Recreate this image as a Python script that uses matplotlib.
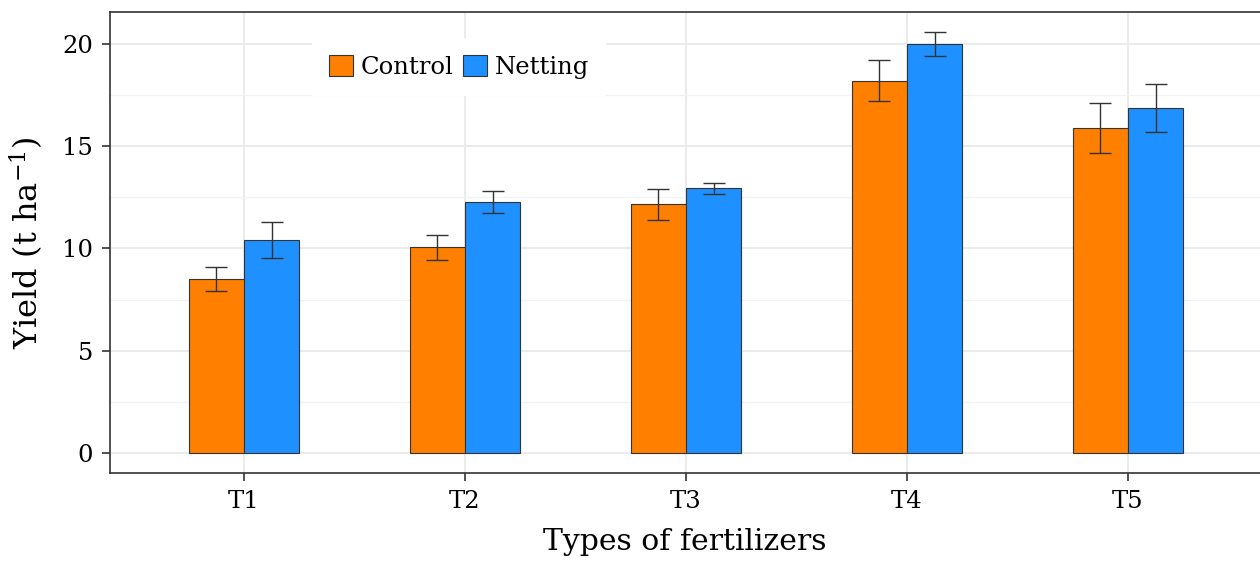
import matplotlib
matplotlib.use("Agg")
import matplotlib.pyplot as plt
import numpy as np

plt.rcParams['font.family'] = ['DejaVu Serif']
plt.rcParams['mathtext.fontset'] = 'dejavuserif'

# data
categories = ["T1", "T2", "T3", "T4", "T5"]
control = [8.5, 10.05, 12.15, 18.2, 15.9]
control_err = [0.6, 0.6, 0.75, 1.0, 1.22]
netting = [10.4, 12.25, 12.95, 20.0, 16.85]
netting_err = [0.88, 0.54, 0.27, 0.6, 1.18]

fig = plt.figure(figsize=(12.6, 5.61), dpi=100)
ax = fig.add_axes([110 / 1260, 1 - 473 / 561, 1 - 110 / 1260, (473 - 12) / 561])

x = np.arange(1, len(categories) + 1)
w = 0.25
ax.bar(x - w / 2, control, w, color="#FF8000", edgecolor="#333333", linewidth=0.8,
       label="Control", zorder=3)
ax.bar(x + w / 2, netting, w, color="#1E90FF", edgecolor="#333333", linewidth=0.8,
       label="Netting", zorder=3)
ax.errorbar(x - w / 2, control, yerr=control_err, fmt="none", ecolor="#333333",
            elinewidth=1, capsize=8, capthick=1, zorder=4)
ax.errorbar(x + w / 2, netting, yerr=netting_err, fmt="none", ecolor="#333333",
            elinewidth=1, capsize=8, capthick=1, zorder=4)

ax.set_xlim(0.394, 5.597)
ax.set_ylim(-0.98, 21.56)
ax.set_xticks(x)
ax.set_xticklabels(categories)
ax.set_yticks([0, 5, 10, 15, 20])
ax.set_yticks([2.5, 7.5, 12.5, 17.5], minor=True)

ax.grid(True, which="major", color="#EBEBEB", linewidth=1.5, zorder=0)
ax.grid(True, which="minor", axis="y", color="#F2F2F2", linewidth=0.9, zorder=0)
ax.set_axisbelow(True)

for s in ["left", "top", "bottom"]:
    ax.spines[s].set_color("#333333")
    ax.spines[s].set_linewidth(1.2)
ax.spines["right"].set_visible(False)

ax.tick_params(axis="both", which="major", length=6, width=1.2, color="#333333",
               labelsize=17.5, labelcolor="black", pad=6)
ax.tick_params(axis="y", which="minor", length=0)

ax.set_xlabel("Types of fertilizers", fontsize=21.5, labelpad=11)
ax.set_ylabel("Yield (t ha$^{-1}$)", fontsize=23, labelpad=12)

leg = ax.legend(loc="upper left", bbox_to_anchor=(0.165, 0.971), ncol=2, frameon=True,
                fontsize=17.5, handlelength=1.0, handleheight=1.0, handletextpad=0.3,
                columnspacing=0.4, borderpad=0.7, fancybox=False)
leg.get_frame().set_facecolor("white")
leg.get_frame().set_edgecolor("none")
leg.get_frame().set_alpha(1)

fig.savefig("out.png", dpi=100)
